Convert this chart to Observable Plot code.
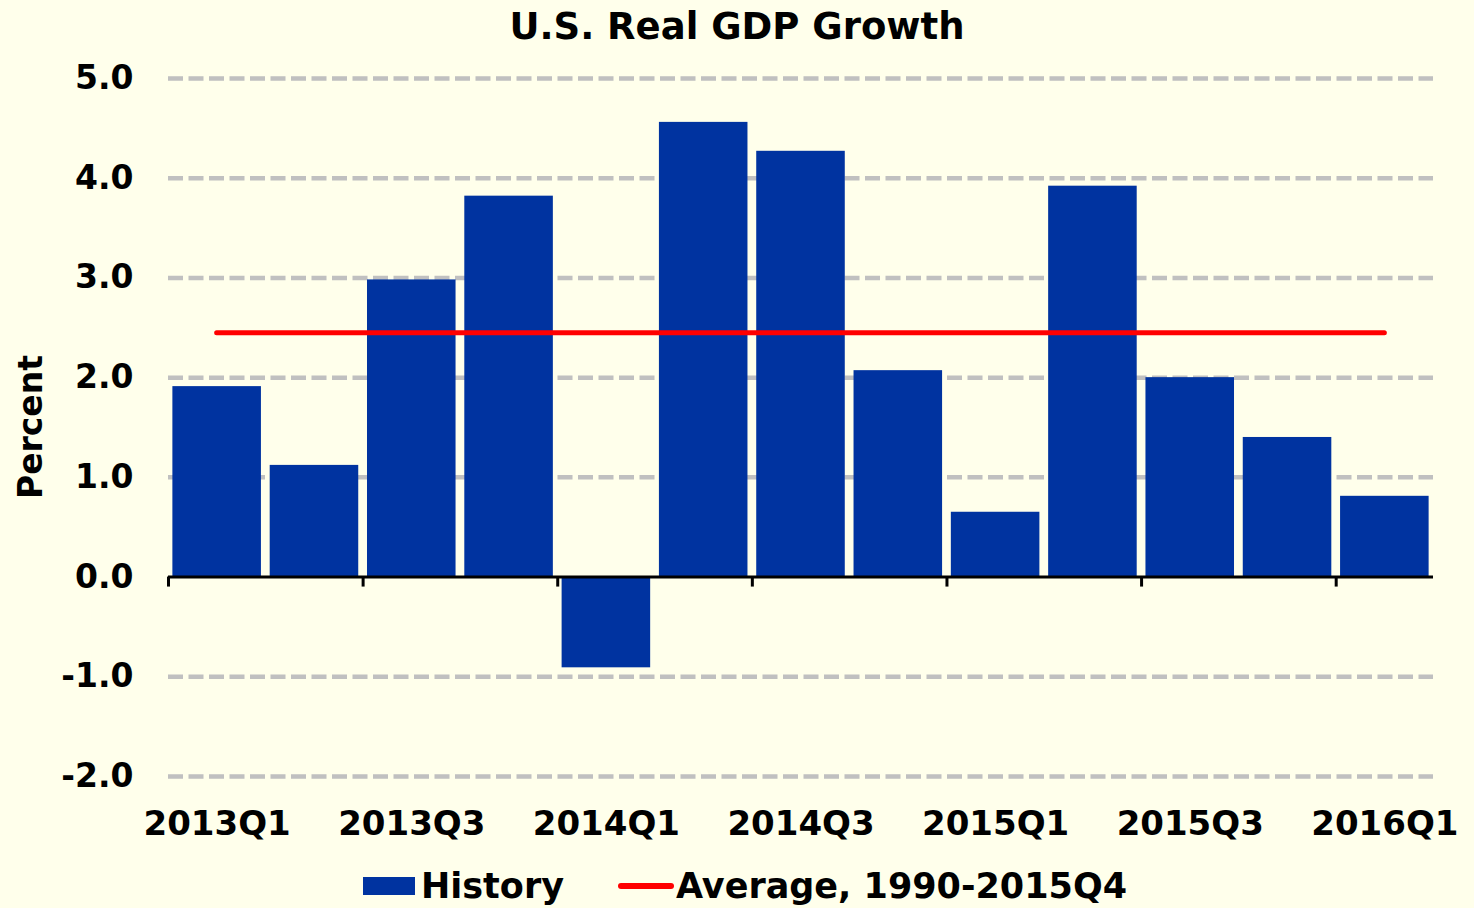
<!DOCTYPE html>
<html>
<head>
<meta charset="utf-8">
<script src="https://cdn.jsdelivr.net/npm/d3@7"></script>
<script src="https://cdn.jsdelivr.net/npm/@observablehq/plot@0.6"></script>
<style>
  html, body { margin: 0; padding: 0; background: #FFFFEB; }
  #wrap { position: relative; width: 1474px; height: 908px; font-family: "DejaVu Sans", Verdana, sans-serif; font-weight: bold; color: #000; }
  #title { position: absolute; top: 5px; left: 0; width: 1474px; text-align: center; font-size: 37px; line-height: normal; }
  #ylabel { position: absolute; left: 30px; top: 427px; transform: translate(-50%, -50%) rotate(-90deg); font-size: 33px; white-space: nowrap; }
  #legend { position: absolute; top: 866px; left: 8px; width: 1474px; display: flex; justify-content: center; align-items: center; font-size: 35px; }
  .sw { display: inline-block; width: 52px; height: 18px; background: #0033A0; margin-right: 6px; }
  .ln { display: inline-block; width: 56px; height: 6px; border-radius: 3px; background: #FF0000; margin-left: 54px; margin-right: 2px; }
  #plot { position: absolute; top: 0; left: 0; }
</style>
</head>
<body>
<div id="wrap">
  <div id="plot"></div>
  <div id="title">U.S. Real GDP Growth</div>
  <div id="ylabel">Percent</div>
  <div id="legend"><span class="sw"></span><span>History</span><span class="ln"></span><span>Average, 1990-2015Q4</span></div>
</div>
<script>
const quarters = ["2013Q1","2013Q2","2013Q3","2013Q4","2014Q1","2014Q2","2014Q3","2014Q4","2015Q1","2015Q2","2015Q3","2015Q4","2016Q1"];
const growth = [1.91, 1.12, 2.98, 3.82, -0.91, 4.56, 4.27, 2.07, 0.65, 3.92, 2.00, 1.40, 0.81];
const average = 2.45;
const yTicks = [-2, -1, 0, 1, 2, 3, 4, 5];

const data = quarters.map((q, i) => ({q, i, v: growth[i]}));
const n = quarters.length;
const labelIdx = d3.range(0, n, 2);
const boundaryIdx = d3.range(0, n, 2).map(i => i - 0.5);
const half = 0.455;

const chart = Plot.plot({
  width: 1474,
  height: 908,
  marginTop: 78,
  marginBottom: 132,
  marginLeft: 168,
  marginRight: 41,
  style: {background: "transparent", fontFamily: "'DejaVu Sans', Verdana, sans-serif", color: "#000", overflow: "visible"},
  x: {domain: [-0.5, n - 0.5], label: null},
  y: {domain: [-2, 5], label: null},
  marks: [
    Plot.ruleY(yTicks.filter(d => d !== 0), {stroke: "#C0C0C0", strokeWidth: 4.5, strokeDasharray: "15,5.5"}),
    Plot.rectY(data, {x1: d => d.i - half, x2: d => d.i + half, y1: 0, y2: "v", fill: "#0033A0"}),
    Plot.ruleY([0], {stroke: "#000", strokeWidth: 3}),
    Plot.ruleX(boundaryIdx, {x: d => d, y1: 0, y2: 0, insetBottom: -10, stroke: "#000", strokeWidth: 3}),
    Plot.ruleY([average], {x1: 0, x2: n - 1, stroke: "#FF0000", strokeWidth: 5, strokeLinecap: "round"}),
    Plot.axisY(yTicks, {tickSize: 0, tickPadding: 35, tickFormat: d => d.toFixed(1), fontSize: 33, fontWeight: "bold", label: null}),
    Plot.axisX(labelIdx, {tickSize: 0, tickPadding: 34, tickFormat: i => quarters[i], fontSize: 34, fontWeight: "bold", label: null})
  ]
});
document.getElementById("plot").appendChild(chart);
</script>
</body>
</html>
